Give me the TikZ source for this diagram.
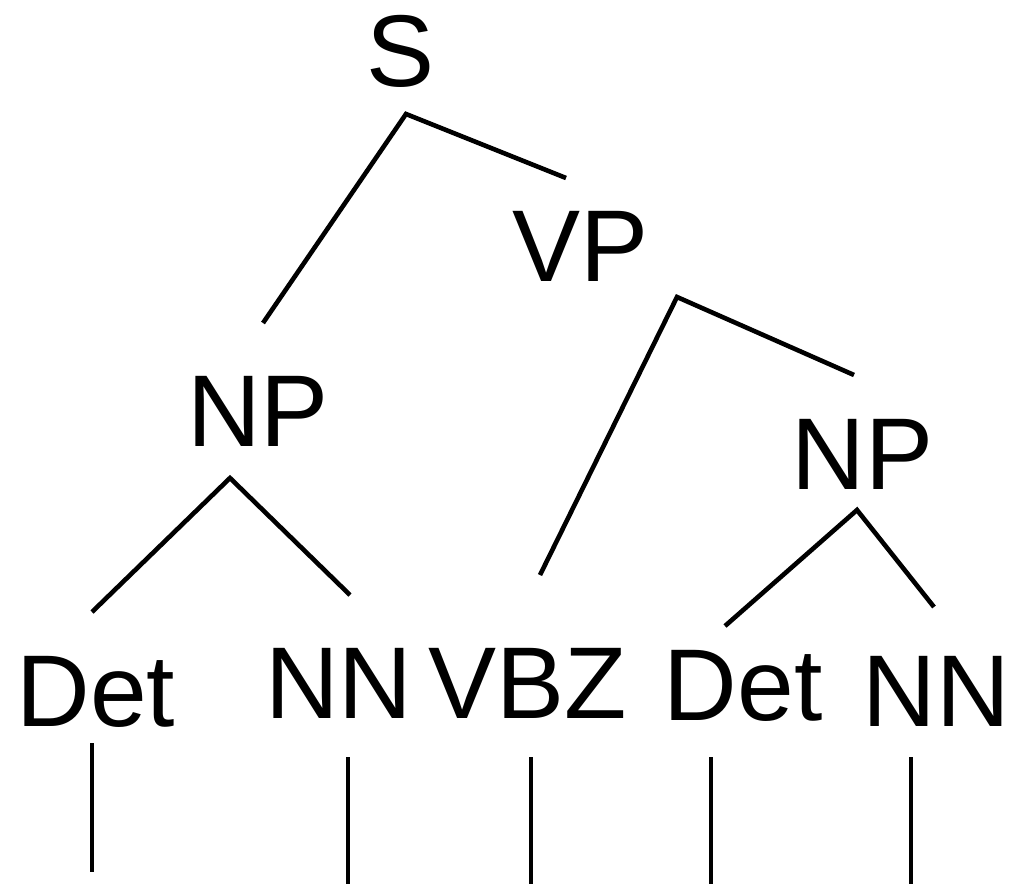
\documentclass[tikz,border=0pt]{standalone}
\usepackage{fontspec}
\setmainfont{Liberation Sans}
\begin{document}
\begin{tikzpicture}[x=1pt,y=-1pt,
  lbl/.style={anchor=base,inner sep=0pt,font=\fontsize{102}{110}\selectfont},
  edge/.style={line width=4.6pt,black}]
\useasboundingbox (0,0) rectangle (1014,884);
% labels
\node[lbl] (S) at (400.5,86) {S};
\node[lbl] (VP) at (580.5,281) {VP};
\node[lbl] (NPl) at (258,446) {NP};
\node[lbl] (NPr) at (862.5,489) {NP};
\node[lbl] (Detl) at (96,726) {Det};
\node[lbl] (NNl) at (339,718) {NN};
\node[lbl] (VBZ) at (527.5,718) {VBZ};
\node[lbl] (Detr) at (743,720) {Det};
\node[lbl] (NNr) at (936.5,726) {NN};
% connector end points
\coordinate (Sa) at (406,114);
\coordinate (Sl) at (263,323);
\coordinate (Sr) at (566,178);
\coordinate (VPa) at (677,297);
\coordinate (VPl) at (540,575);
\coordinate (VPr) at (854,375);
\coordinate (NPla) at (230,478);
\coordinate (NPll) at (92,612);
\coordinate (NPlr) at (350,595);
\coordinate (NPra) at (857,510);
\coordinate (NPrl) at (725,626);
\coordinate (NPrr) at (934,607);
\coordinate (d1a) at (92,743);
\coordinate (d1b) at (92,872);
\coordinate (d2a) at (348,757);
\coordinate (d2b) at (348,884);
\coordinate (d3a) at (531,757);
\coordinate (d3b) at (531,884);
\coordinate (d4a) at (711,757);
\coordinate (d4b) at (711,884);
\coordinate (d5a) at (911,757);
\coordinate (d5b) at (911,884);
% connectors
\draw[edge] (Sl) -- (Sa) -- (Sr);
\draw[edge] (VPl) -- (VPa) -- (VPr);
\draw[edge] (NPll) -- (NPla) -- (NPlr);
\draw[edge] (NPrl) -- (NPra) -- (NPrr);
\draw[edge] (d1a) -- (d1b);
\draw[edge] (d2a) -- (d2b);
\draw[edge] (d3a) -- (d3b);
\draw[edge] (d4a) -- (d4b);
\draw[edge] (d5a) -- (d5b);
\end{tikzpicture}
\end{document}
